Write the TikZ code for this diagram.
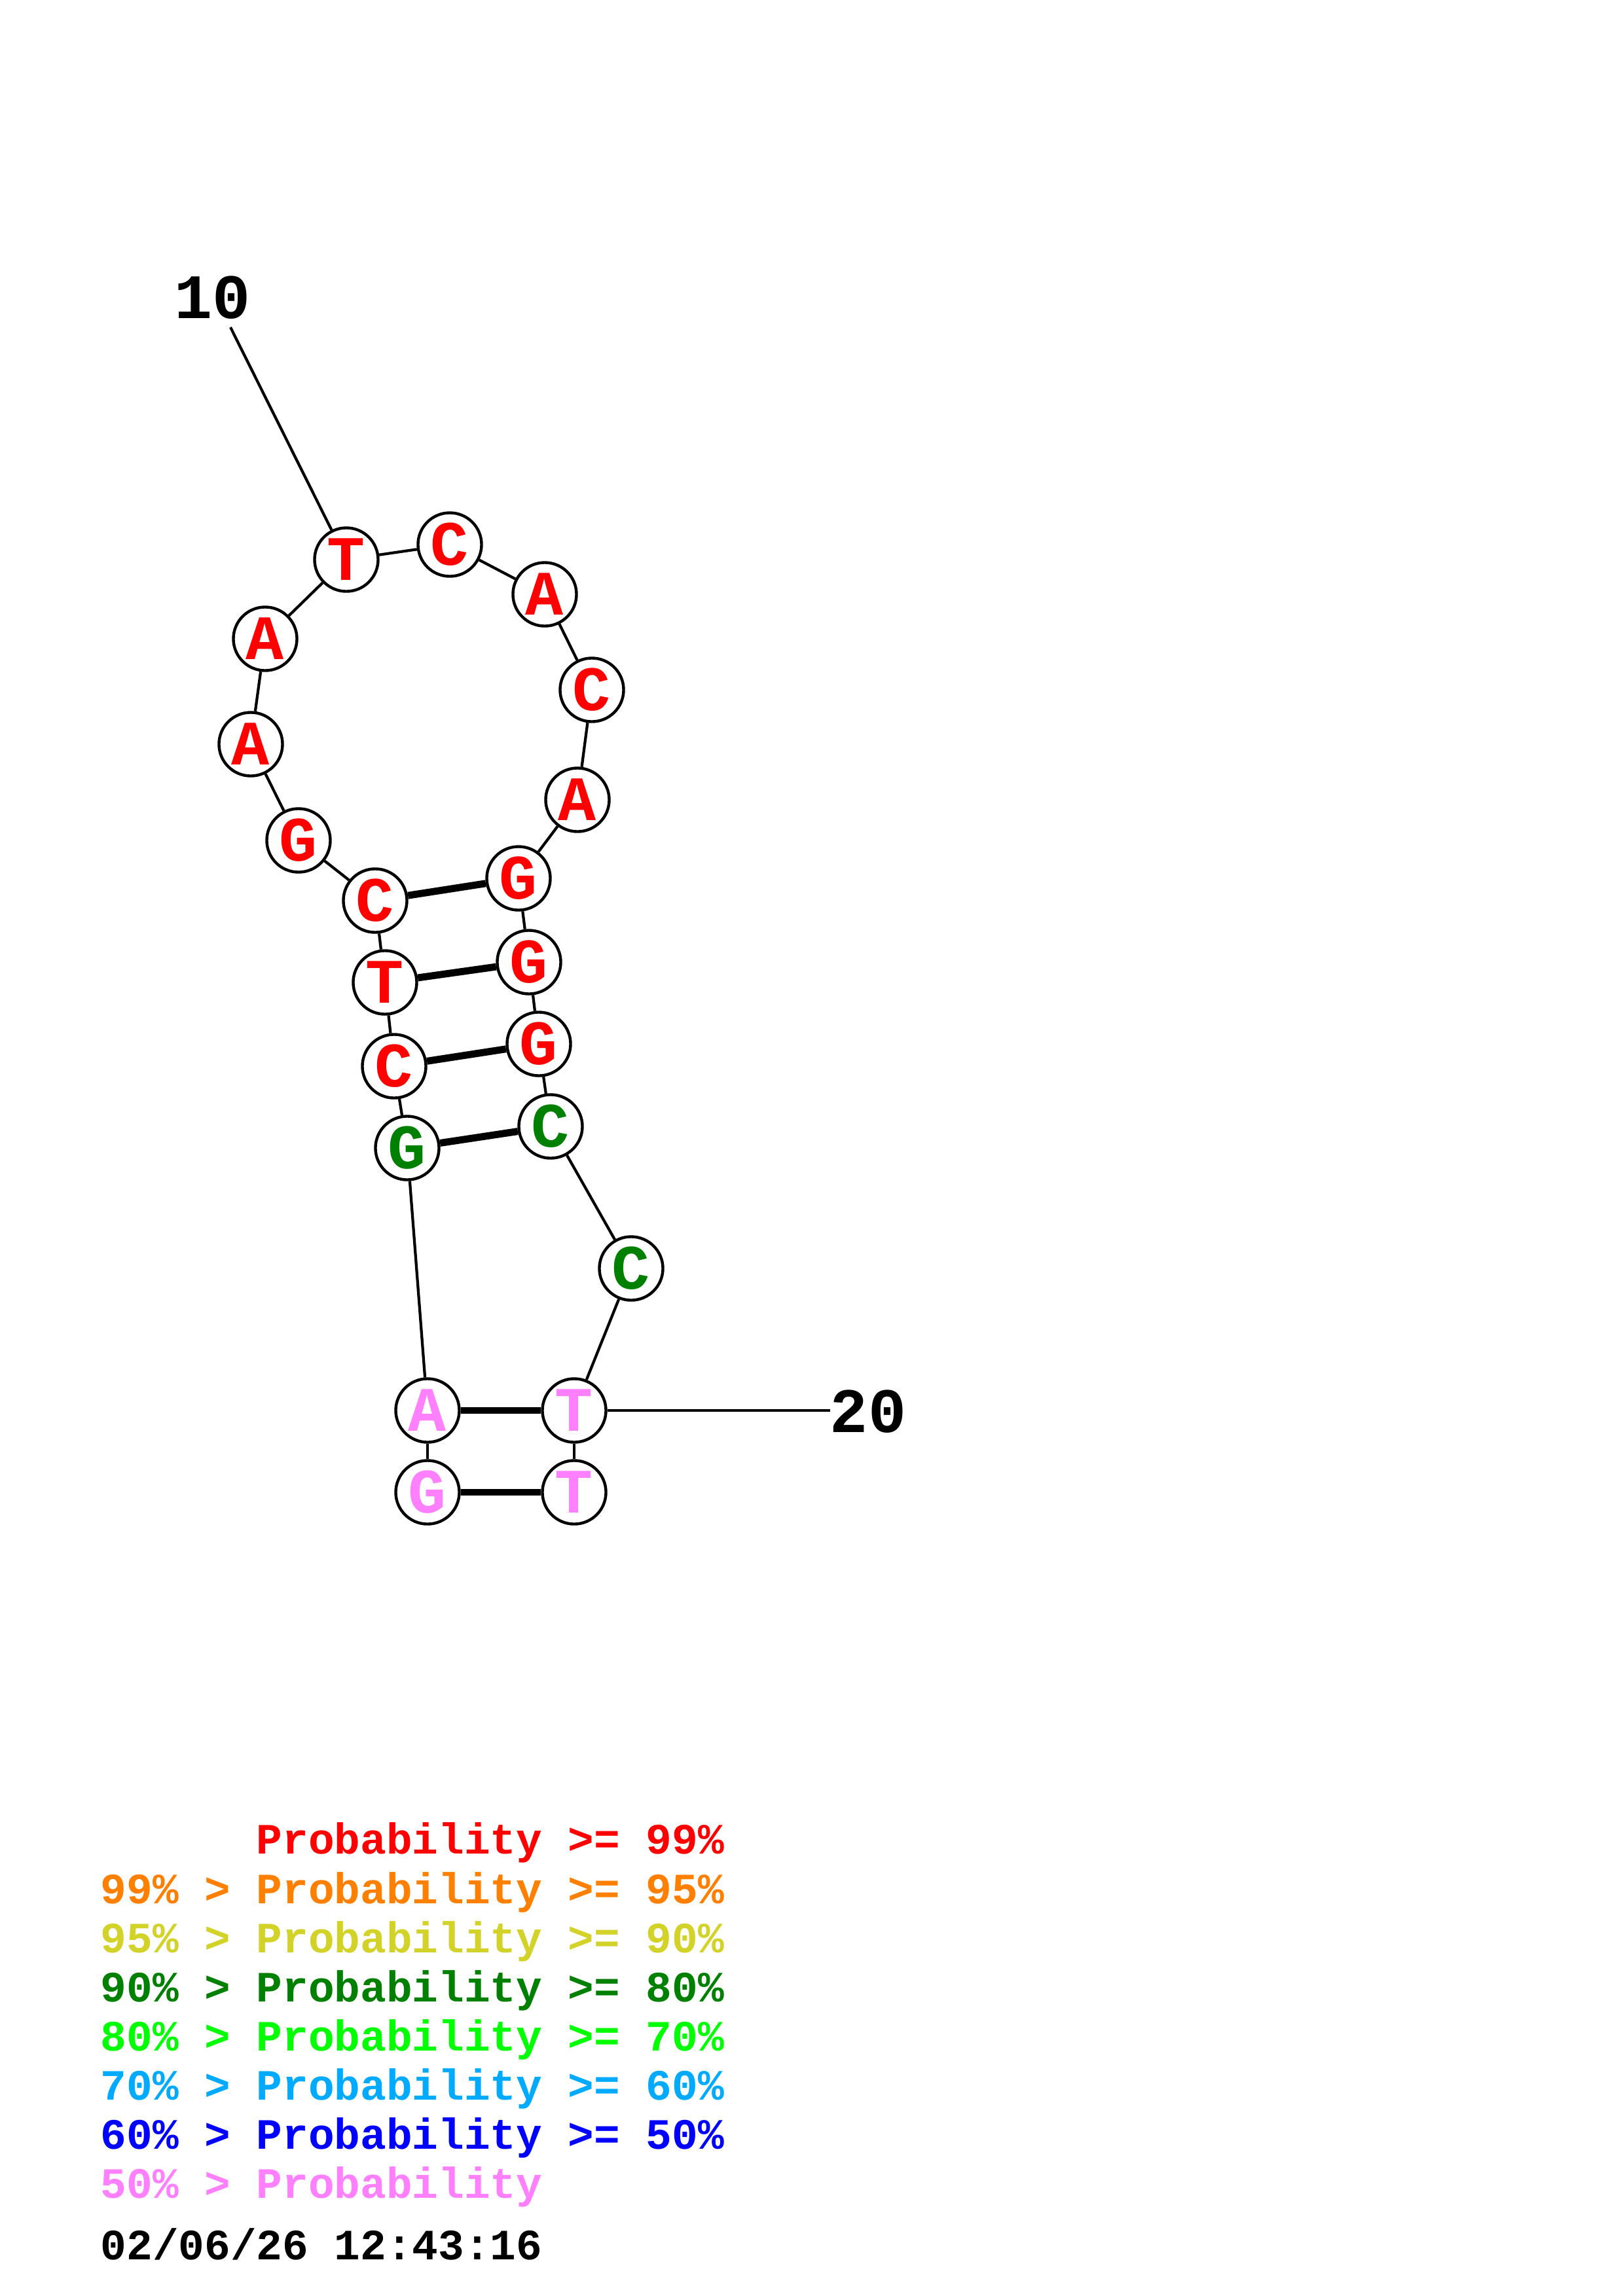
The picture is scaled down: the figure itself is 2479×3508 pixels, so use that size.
\documentclass[tikz,border=0pt]{standalone}
\usepackage{fontspec}
\setmonofont{Liberation Mono}
\definecolor{cRed}{RGB}{255,0,0}
\definecolor{cOrange}{RGB}{255,128,0}
\definecolor{cYellow}{RGB}{210,210,40}
\definecolor{cDGreen}{RGB}{0,128,0}
\definecolor{cLime}{RGB}{0,255,0}
\definecolor{cSky}{RGB}{0,170,255}
\definecolor{cBlue}{RGB}{0,0,255}
\definecolor{cPink}{RGB}{255,128,255}
\tikzset{
  base/.style={circle, draw=black, fill=white, line width=1.25pt, minimum size=0.97cm, inner sep=0pt,
    font=\ttfamily\bfseries\fontsize{27.5}{30}\selectfont},
  bb/.style={line width=1.2pt},
  pair/.style={line width=3.1pt},
  lbl/.style={font=\ttfamily\bfseries\fontsize{27.5}{30}\selectfont, inner sep=0pt},
  leg/.style={font=\ttfamily\bfseries\fontsize{18.8}{22}\selectfont, anchor=base west, inner sep=0pt}
}
\begin{document}
\begin{tikzpicture}[x=0.01cm, y=-0.01cm]
\useasboundingbox[fill=white] (0,0) rectangle (2479,3508);
% nodes
\node[base, text=cRed] (n1) at (529,855) {T};
\node[base, text=cRed] (n2) at (687,832) {C};
\node[base, text=cRed] (n3) at (832,908) {A};
\node[base, text=cRed] (n4) at (904,1054) {C};
\node[base, text=cRed] (n5) at (882,1222) {A};
\node[base, text=cRed] (n6) at (792,1342) {G};
\node[base, text=cRed] (n7) at (808,1470) {G};
\node[base, text=cRed] (n8) at (823,1595) {G};
\node[base, text=cDGreen] (n9) at (841,1721) {C};
\node[base, text=cDGreen] (n10) at (964,1938) {C};
\node[base, text=cPink] (n11) at (877,2155) {T};
\node[base, text=cPink] (n12) at (877,2280) {T};
\node[base, text=cPink] (n13) at (653,2280) {G};
\node[base, text=cPink] (n14) at (653,2155) {A};
\node[base, text=cDGreen] (n15) at (622,1754) {G};
\node[base, text=cRed] (n16) at (602,1629) {C};
\node[base, text=cRed] (n17) at (588,1501) {T};
\node[base, text=cRed] (n18) at (573,1376) {C};
\node[base, text=cRed] (n19) at (456,1284) {G};
\node[base, text=cRed] (n20) at (383,1137) {A};
\node[base, text=cRed] (n21) at (405,976) {A};
% labels
\node[lbl, anchor=base] (l10) at (325,486) {10};
\node[lbl, anchor=base] (l20) at (1326,2188) {20};
\coordinate (t10) at (352,500);
\coordinate (t20) at (1268,2155);
% backbone
\draw[bb] (n1) -- (n2);
\draw[bb] (n2) -- (n3);
\draw[bb] (n3) -- (n4);
\draw[bb] (n4) -- (n5);
\draw[bb] (n5) -- (n6);
\draw[bb] (n6) -- (n7);
\draw[bb] (n7) -- (n8);
\draw[bb] (n8) -- (n9);
\draw[bb] (n9) -- (n10);
\draw[bb] (n10) -- (n11);
\draw[bb] (n11) -- (n12);
\draw[bb] (n13) -- (n14);
\draw[bb] (n14) -- (n15);
\draw[bb] (n15) -- (n16);
\draw[bb] (n16) -- (n17);
\draw[bb] (n17) -- (n18);
\draw[bb] (n18) -- (n19);
\draw[bb] (n19) -- (n20);
\draw[bb] (n20) -- (n21);
\draw[bb] (n21) -- (n1);
\draw[bb] (n1) -- (t10);
\draw[bb] (n11) -- (t20);
% pairs
\draw[pair] (n18) -- (n6);
\draw[pair] (n17) -- (n7);
\draw[pair] (n16) -- (n8);
\draw[pair] (n15) -- (n9);
\draw[pair] (n14) -- (n11);
\draw[pair] (n13) -- (n12);
% legend
\node[leg, text=cRed] (g1) at (153,2832) {\phantom{99\% > }Probability >= 99\%};
\node[leg, text=cOrange] (g2) at (153,2908) {99\% > Probability >= 95\%};
\node[leg, text=cYellow] (g3) at (153,2983) {95\% > Probability >= 90\%};
\node[leg, text=cDGreen] (g4) at (153,3058) {90\% > Probability >= 80\%};
\node[leg, text=cLime] (g5) at (153,3133) {80\% > Probability >= 70\%};
\node[leg, text=cSky] (g6) at (153,3208) {70\% > Probability >= 60\%};
\node[leg, text=cBlue] (g7) at (153,3283) {60\% > Probability >= 50\%};
\node[leg, text=cPink] (g8) at (153,3358) {50\% > Probability};
\node[leg, text=black] (g9) at (153,3452) {02/06/26 12:43:16};
\end{tikzpicture}
\end{document}
